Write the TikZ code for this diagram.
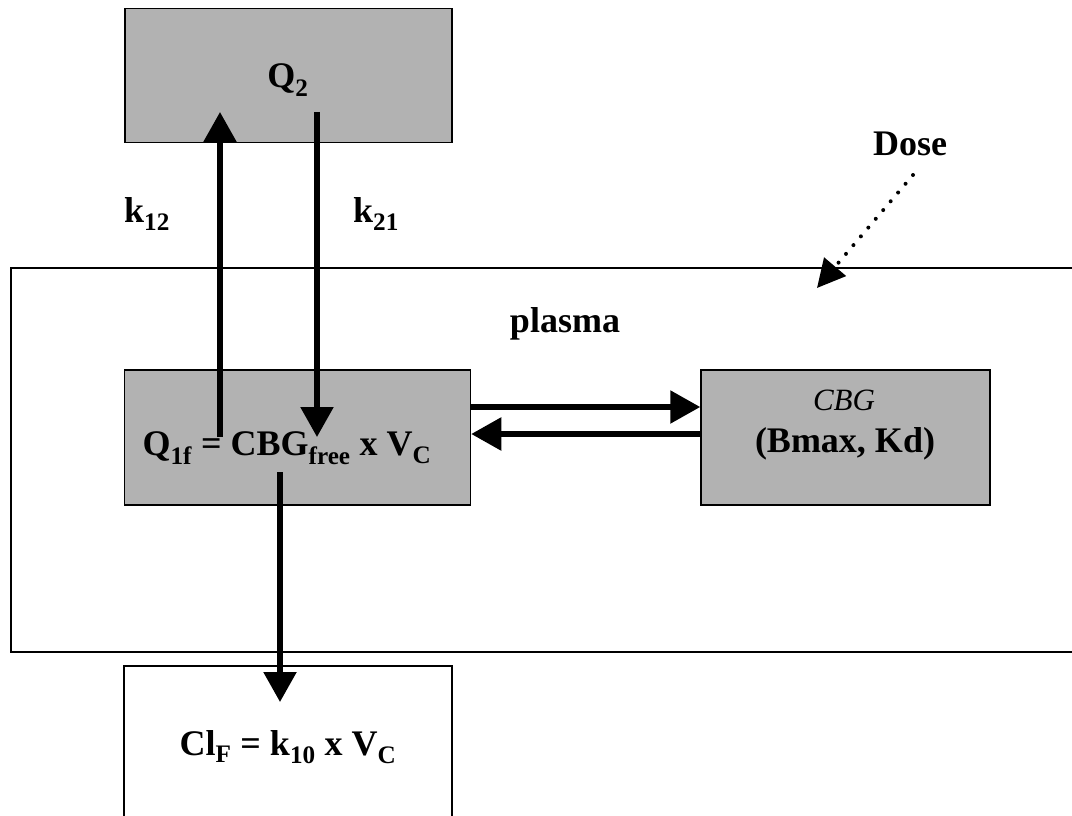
\documentclass[tikz,border=0pt]{standalone}
\usepackage{fontspec}
\setmainfont{Liberation Serif}
\usepackage{tikz}
\usetikzlibrary{arrows.meta}
\definecolor{boxgray}{HTML}{B2B2B2}

\begin{document}
\begin{tikzpicture}[x=1pt, y=-1pt,
    comp/.style={draw=black, line width=1.5pt, inner sep=0pt},
    lbl/.style={anchor=base, inner sep=0pt, font=\bfseries\fontsize{36}{40}\selectfont},
    flow/.style={line width=5.5pt, -{Triangle[length=30pt, width=32pt]}},
    dosearrow/.style={line width=4pt, line cap=round, dash pattern=on 0pt off 11.5pt,
      -{Triangle[length=28pt, width=28pt]}}]
    \clip (0,0) rectangle (1072,816);
    % compartments
    \node[comp, minimum width=1075pt, minimum height=384pt, anchor=north west] (plasmabox) at (10,267) {};
    \node[comp, fill=boxgray, minimum width=327pt, minimum height=134pt] (q2) at (288.5,75.5) {};
    \node[comp, fill=boxgray, minimum width=346pt, minimum height=135pt] (q1f) at (297.5,437.5) {};
    \node[comp, fill=boxgray, minimum width=289pt, minimum height=135pt] (cbg) at (845.5,437.5) {};
    \node[comp, fill=white, minimum width=328pt, minimum height=160pt] (clf) at (288,746) {};
    % labels
    \node[lbl] (q2text) at (288,88) {Q\textsubscript{2}};
    \node[lbl] (k12) at (147,222) {k\textsubscript{12}};
    \node[lbl] (k21) at (376,222) {k\textsubscript{21}};
    \node[lbl] (plasma) at (565,332) {plasma};
    \node[lbl] (dose) at (910,155) {Dose};
    \node[lbl] (q1ftext) at (287,455) {Q\textsubscript{1f} = CBG\textsubscript{free} x V\textsubscript{C}};
    \node[lbl, font=\itshape\fontsize{31}{35}\selectfont] (cbgname) at (844,410) {CBG};
    \node[lbl] (cbgpar) at (845,452) {(Bmax, Kd)};
    \node[lbl] (clftext) at (288,755) {Cl\textsubscript{F} = k\textsubscript{10} x V\textsubscript{C}};
    % arrow ends
    \coordinate (k12from) at (220,437);
    \coordinate (k12to) at (220,112);
    \coordinate (k21from) at (317,112);
    \coordinate (k21to) at (317,437);
    \coordinate (elimfrom) at (280,472);
    \coordinate (elimto) at (280,702);
    \coordinate (dosefrom) at (913,175);
    \coordinate (doseto) at (817,288);
    % flows
    \draw[flow] (k12from) -- (k12to);
    \draw[flow] (k21from) -- (k21to);
    \draw[flow] (elimfrom) -- (elimto);
    \draw[flow] ([yshift=30.5pt]q1f.east) -- ([yshift=30.5pt]cbg.west);
    \draw[flow] ([yshift=3.5pt]cbg.west) -- ([yshift=3.5pt]q1f.east);
    \draw[dosearrow] (dosefrom) -- (doseto);
\end{tikzpicture}
\end{document}
